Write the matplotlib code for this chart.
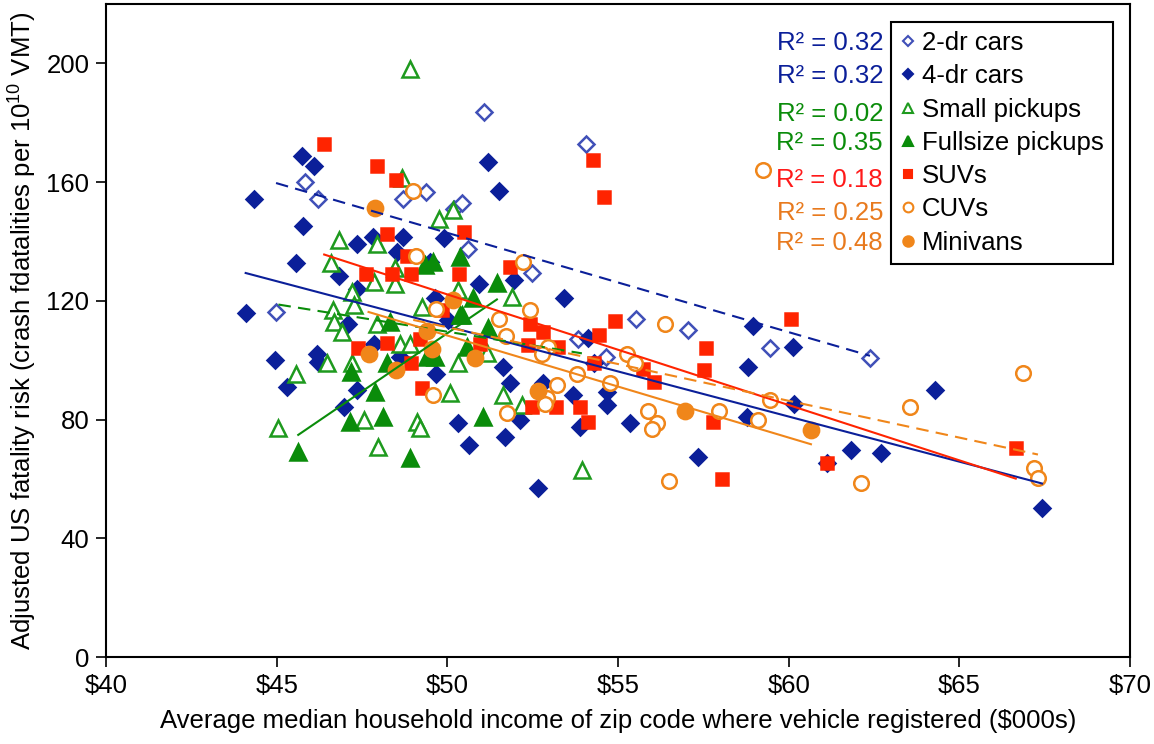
import numpy as np
import matplotlib.pyplot as plt
from matplotlib.lines import Line2D
from matplotlib.ticker import FuncFormatter, MultipleLocator

plt.rcParams['font.family'] = ['Liberation Sans', 'DejaVu Sans']
plt.rcParams['mathtext.fontset'] = 'custom'
plt.rcParams['mathtext.rm'] = 'Liberation Sans'

# income ($000s) / fatality risk per series
cars2_x = [44.98, 45.84, 46.20, 48.69, 49.37, 50.18, 50.42, 50.60, 51.07, 52.47, 53.82, 54.06,
           54.64, 55.53, 57.04, 59.45, 62.38]
cars2_y = [116.3, 159.9, 154.4, 154.4, 156.8, 151.0, 153.0, 137.6, 183.5, 129.5, 107.0, 173.0,
           101.1, 113.8, 110.1, 104.1, 100.9]

cars4_x = [44.33, 44.09, 44.95, 45.73, 46.10, 45.78, 45.57, 46.81, 47.35, 47.83, 48.69, 48.52,
           49.90, 49.49, 47.35, 46.17, 46.22, 45.29, 47.10, 47.85, 47.35, 46.97, 49.64, 50.03,
           48.61, 49.67, 50.32, 50.62, 50.94, 51.95, 53.42, 54.11, 51.62, 51.84, 51.69, 52.13,
           52.81, 53.69, 54.67, 54.67, 53.89, 55.35, 52.65, 54.28, 57.35, 51.18, 51.51, 58.95,
           60.11, 58.80, 60.16, 58.79, 61.83, 62.70, 61.13, 64.29, 67.42]
cars4_y = [154.3, 115.9, 100.2, 168.7, 165.3, 145.1, 132.6, 128.3, 139.0, 141.5, 141.5, 136.5,
           141.3, 133.1, 124.1, 102.2, 99.4, 91.0, 112.3, 105.6, 89.9, 84.3, 120.8, 113.5,
           101.1, 95.5, 78.7, 71.4, 125.8, 126.9, 121.0, 107.6, 97.7, 92.4, 74.2, 79.8,
           92.2, 88.2, 89.3, 84.8, 77.5, 78.7, 56.8, 98.9, 67.4, 166.8, 156.9, 111.5,
           104.5, 97.7, 85.2, 80.7, 69.7, 68.6, 65.4, 89.9, 50.3]

small_x = [48.90, 48.66, 46.81, 47.93, 46.59, 49.74, 50.16, 48.47, 47.85, 48.47, 47.20, 47.25,
           46.66, 46.69, 46.91, 47.93, 49.25, 48.61, 48.91, 46.46, 47.20, 45.57, 50.32, 50.08,
           47.56, 49.12, 49.20, 45.05, 47.98, 51.89, 51.15, 51.62, 52.18, 53.94, 50.32]
small_y = [198.0, 161.5, 140.6, 139.0, 132.8, 147.7, 150.5, 131.0, 126.4, 125.8, 123.0, 118.5,
           116.8, 112.9, 109.5, 112.3, 118.0, 105.6, 105.6, 98.9, 98.9, 95.5, 98.9, 88.8,
           79.8, 79.2, 77.0, 77.0, 70.8, 121.3, 102.3, 88.2, 84.8, 63.0, 123.6]

full_x = [49.59, 49.35, 50.37, 47.17, 48.22, 47.88, 47.15, 48.11, 48.91, 45.63, 50.37, 49.64,
          49.40, 48.32, 51.45, 50.74, 50.42, 51.18, 50.57, 51.04]
full_y = [133.1, 132.0, 134.8, 96.0, 98.9, 89.3, 79.2, 80.9, 66.9, 69.1, 115.2, 101.1,
          101.1, 112.9, 126.0, 120.8, 115.2, 110.7, 104.3, 80.9]

suv_x = [46.39, 47.93, 48.50, 48.22, 48.81, 50.49, 47.61, 48.37, 48.93, 50.35, 49.84, 47.39,
         48.22, 49.20, 48.93, 49.25, 54.26, 54.59, 51.84, 52.42, 52.80, 52.37, 53.25, 54.91,
         54.44, 54.28, 55.72, 56.04, 50.96, 52.47, 53.18, 53.89, 54.11, 60.07, 57.58, 57.52,
         57.78, 58.04, 61.13, 66.65]
suv_y = [172.7, 165.3, 160.6, 142.4, 135.1, 143.2, 128.9, 128.9, 128.9, 128.9, 117.0, 104.1,
         105.8, 107.0, 99.1, 90.5, 167.3, 155.0, 131.4, 112.3, 109.5, 105.0, 104.3, 113.1,
         108.4, 98.9, 97.2, 92.7, 105.6, 84.3, 84.3, 84.3, 79.2, 114.0, 104.1, 96.6,
         79.2, 59.9, 65.4, 70.5]

cuv_x = [49.00, 49.08, 49.67, 49.57, 52.21, 52.42, 51.50, 51.72, 52.96, 52.77, 53.79, 53.22,
         52.93, 52.86, 51.74, 54.77, 55.26, 55.50, 56.37, 55.89, 56.15, 55.99, 56.48, 57.96,
         59.11, 59.45, 62.11, 63.54, 66.85, 67.18, 67.30, 59.24]
cuv_y = [156.9, 135.1, 117.4, 88.2, 133.1, 117.0, 113.8, 108.1, 104.5, 102.2, 95.2, 91.6,
         87.1, 85.2, 82.3, 92.2, 102.2, 99.2, 112.1, 82.9, 78.7, 76.8, 59.4, 82.9,
         80.0, 86.5, 58.7, 84.3, 95.8, 63.7, 60.3, 164.2]

mini_x = [47.89, 47.69, 48.49, 49.40, 49.54, 50.16, 50.81, 52.65, 56.96, 60.65]
mini_y = [151.3, 102.2, 96.6, 109.9, 103.9, 120.2, 100.9, 89.7, 82.8, 76.6]

labels = ['2-dr cars', '4-dr cars', 'Small pickups', 'Fullsize pickups', 'SUVs', 'CUVs', 'Minivans']
r2_labels = ['R² = 0.32', 'R² = 0.32', 'R² = 0.02', 'R² = 0.35', 'R² = 0.18', 'R² = 0.25', 'R² = 0.48']

BLUE = '#0B1F99'
BLUE_L = '#4050B8'
GREEN = '#0A8C0A'
GREEN_L = '#1E9A1E'
RED = '#FF2400'
ORANGE = '#F0861A'

# marker, size, legend size, face, edge, line colour, line style
styles = [
    ('D', 8.0, 5.0, 'white', BLUE_L, BLUE, (0, (6, 3.5))),
    ('D', 8.0, 5.0, BLUE, BLUE, BLUE, '-'),
    ('^', 11.0, 7.5, 'white', GREEN_L, GREEN, (0, (6, 3.5))),
    ('^', 11.0, 7.5, GREEN, GREEN, GREEN, '-'),
    ('s', 8.5, 6.0, RED, RED, RED, '-'),
    ('o', 10.5, 7.0, 'white', ORANGE, ORANGE, (0, (6, 3.5))),
    ('o', 11.0, 7.5, ORANGE, ORANGE, ORANGE, '-'),
]
series = [(cars2_x, cars2_y), (cars4_x, cars4_y), (small_x, small_y), (full_x, full_y),
          (suv_x, suv_y), (cuv_x, cuv_y), (mini_x, mini_y)]
r2_colors = [BLUE, BLUE, GREEN, GREEN, '#FF1A1A', '#E87A1E', '#E87A1E']

FS = 18.5

fig = plt.figure(figsize=(11.54, 7.44), dpi=100)
ax = fig.add_axes([0.0919, 0.1169, 0.8874, 0.8777])

handles = []
for (xs, ys), (mk, ms, lms, fc, ec, lc, ls) in zip(series, styles):
    ax.plot(xs, ys, ls='none', marker=mk, ms=ms, mfc=fc, mec=ec, mew=1.8, zorder=3)
    handles.append(Line2D([], [], ls='none', marker=mk, ms=lms, mfc=fc, mec=ec, mew=1.5))

# linear trendlines over each series' range
for (xs, ys), (mk, ms, lms, fc, ec, lc, ls) in zip(series, styles):
    k, b = np.polyfit(xs, ys, 1)
    xx = np.array([min(xs), max(xs)])
    ax.plot(xx, k * xx + b, color=lc, ls=ls, lw=1.5, zorder=4)

ax.set_xlim(40, 70)
ax.set_ylim(0, 220)
ax.xaxis.set_major_locator(MultipleLocator(5))
ax.yaxis.set_major_locator(MultipleLocator(40))
ax.xaxis.set_major_formatter(FuncFormatter(lambda v, p: f'${v:.0f}'))
ax.tick_params(direction='out', length=7, width=1.2, labelsize=FS, pad=5)
for s in ax.spines.values():
    s.set_linewidth(1.5)

ax.set_xlabel('Average median household income of zip code where vehicle registered ($000s)',
              fontsize=FS, labelpad=8)
ax.set_ylabel(r'Adjusted US fatality risk (crash fdatalities per 10$^{\mathregular{10}}$ VMT)',
              fontsize=FS, labelpad=6)

leg = ax.legend(handles, labels, loc='upper left', bbox_to_anchor=(0.7666, 0.9724),
                borderaxespad=0, fontsize=FS, frameon=True, fancybox=False,
                edgecolor='black', framealpha=1, handlelength=0.6, handletextpad=0.25,
                labelspacing=0.36, borderpad=0.35)
leg.get_frame().set_linewidth(1.5)

r2_y = [0.9403, 0.8904, 0.8321, 0.7871, 0.7305, 0.6806, 0.634]
for txt, yy, c in zip(r2_labels, r2_y, r2_colors):
    ax.text(0.7588, yy, txt, transform=ax.transAxes, ha='right', va='center',
            fontsize=FS, color=c, zorder=5)

fig.savefig('out.png', dpi=100)
